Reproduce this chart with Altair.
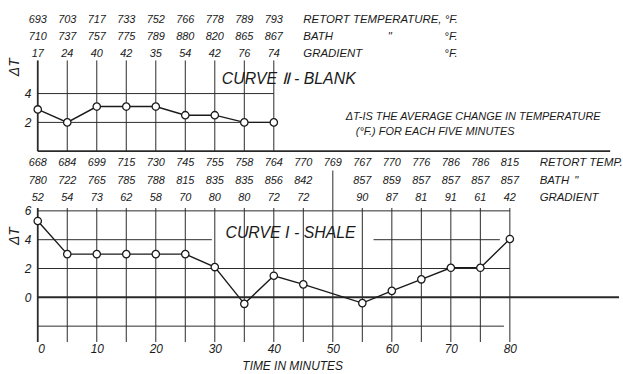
import altair as alt
import pandas as pd

FONT = "Liberation Sans"
INK = "#1a1a1a"
GRID = "#2a2a2a"

# ---------------- data ----------------
minutes = list(range(0, 85, 5))           # 0 ... 80 (17 readings)

# Curve II - blank (first 9 readings)
blank_minutes = minutes[:9]
blank_dT = [2.9, 2.0, 3.1, 3.1, 3.1, 2.5, 2.5, 2.0, 2.0]
blank_retort = [693, 703, 717, 733, 752, 766, 778, 789, 793]
blank_bath = [710, 737, 757, 775, 789, 880, 820, 865, 867]
blank_gradient = [17, 24, 40, 42, 35, 54, 42, 76, 74]

# Curve I - shale
shale_dT = [5.3, 3.0, 3.0, 3.0, 3.0, 3.0, 2.1, -0.45, 1.5, 0.9, None,
            -0.4, 0.45, 1.25, 2.05, 2.05, 4.05]
shale_retort = [668, 684, 699, 715, 730, 745, 755, 758, 764, 770, 769,
                767, 770, 776, 786, 786, 815]
shale_bath = [780, 722, 765, 785, 788, 815, 835, 835, 856, 842, None,
              857, 859, 857, 857, 857, 857]
shale_gradient = [52, 54, 73, 62, 58, 70, 80, 80, 72, 72, None,
                  90, 87, 81, 91, 61, 42]

top_row_labels = ["RETORT TEMPERATURE, °F.", "BATH", "GRADIENT"]
top_row_units = ["", "°F.", "°F."]
bot_row_labels = ["RETORT TEMP.", "BATH", "GRADIENT"]
note_lines = ["ΔT-IS THE AVERAGE CHANGE IN TEMPERATURE",
              "(°F.) FOR EACH FIVE MINUTES"]
x_ticks = list(range(0, 81, 10))

# ---------------- layout (in data units) ----------------
W = 585
TOP_H, BOT_H = 151, 191
XMAX = 98.5
TOP_DOMAIN = [0, 10.41]
BOT_DOMAIN = [-3.1, 10.07]
top_rows_v = [9.1, 7.93, 6.76]
bot_rows_v = [9.31, 8.07, 6.9]

xscale = alt.Scale(domain=[0, XMAX], nice=False, zero=False)
ys_top = alt.Scale(domain=TOP_DOMAIN, nice=False, zero=False)
ys_bot = alt.Scale(domain=BOT_DOMAIN, nice=False, zero=False)

x_axis_bot = alt.Axis(
    title="TIME IN MINUTES", values=x_ticks, domain=False, ticks=False, grid=False,
    labelFont=FONT, labelFontStyle="italic", labelFontSize=12, labelColor=INK,
    labelPadding=2, titleFont=FONT, titleFontStyle="italic", titleFontWeight="normal",
    titleFontSize=12, titleColor=INK, titlePadding=6, titleX=256, titleAlign="center")


def y_axis(values, title_y):
    return alt.Axis(
        title="ΔT", values=values, domain=False, ticks=False, grid=False,
        labelFont=FONT, labelFontStyle="italic", labelFontSize=12, labelColor=INK,
        labelPadding=7, titleFont=FONT, titleFontStyle="italic", titleFontWeight="normal",
        titleFontSize=14, titleColor=INK, titleX=-23, titleY=title_y, titleAngle=270,
        titleAlign="center", titleBaseline="middle")


def panel(xaxis, yscale, yaxis, vlines, hlines, curve, tables, labels, texts, width, height):
    X = lambda: alt.X("t:Q", scale=xscale, axis=xaxis)
    Y = lambda: alt.Y("v:Q", scale=yscale, axis=yaxis)
    layers = []
    layers.append(alt.Chart(vlines).mark_rule(color=GRID).encode(
        x=X(), y=Y(), y2=alt.Y2("v2:Q"), strokeWidth=alt.StrokeWidth("w:Q", scale=None)))
    layers.append(alt.Chart(hlines).mark_rule(color=GRID).encode(
        x=X(), x2=alt.X2("t2:Q"), y=Y(), strokeWidth=alt.StrokeWidth("w:Q", scale=None)))
    layers.append(alt.Chart(curve).mark_line(color=INK, strokeWidth=1.4).encode(x=X(), y=Y()))
    layers.append(alt.Chart(curve).mark_point(
        shape="circle", filled=True, fill="white", stroke=INK, strokeWidth=1.3,
        size=55, opacity=1).encode(x=X(), y=Y()))
    layers.append(alt.Chart(tables).mark_text(
        font=FONT, fontStyle="italic", fontSize=11, color=INK, align="center",
        baseline="middle").encode(x=X(), y=Y(), text="text:N"))
    layers.append(alt.Chart(labels).mark_text(
        font=FONT, fontStyle="italic", fontSize=11.5, color=INK, align="left",
        baseline="middle").encode(x=X(), y=Y(), text="text:N"))
    layers.append(alt.Chart(texts).mark_text(
        font=FONT, fontStyle="italic", color=INK, align="left",
        baseline="middle").encode(x=X(), y=Y(), text="text:N",
                                  size=alt.Size("s:Q", scale=None)))
    return alt.layer(*layers).properties(width=width, height=height)


def table_df(cols, rows, row_v):
    recs = []
    for vals, v in zip(rows, row_v):
        for t, val in zip(cols, vals):
            if val is not None:
                recs.append({"t": t, "v": v, "text": str(val)})
    return pd.DataFrame(recs)


# ---------------- top panel: Curve II ----------------
top_v = pd.DataFrame({"t": blank_minutes, "v": 0.0, "v2": 6.3,
                      "w": [1.8] + [1.0] * 8})
top_h = pd.DataFrame({"t": [0, 0, 0], "t2": [40, 40, 97], "v": [4, 2, 0],
                      "w": [1.0, 1.0, 1.8]})
top_curve = pd.DataFrame({"t": blank_minutes, "v": blank_dT})
top_table = table_df(blank_minutes, [blank_retort, blank_bath, blank_gradient], top_rows_v)
top_labels = pd.DataFrame(
    [{"t": 45.0, "v": v, "text": s} for s, v in zip(top_row_labels, top_rows_v)]
    + [{"t": 59.3, "v": top_rows_v[1], "text": "\""}]
    + [{"t": 68.9, "v": v, "text": u} for u, v in zip(top_row_units, top_rows_v) if u])
top_texts = pd.DataFrame([
    {"t": 31.2, "v": 5.03, "text": "CURVE Ⅱ - BLANK", "s": 16},
    {"t": 52.2, "v": 2.34, "text": note_lines[0], "s": 11},
    {"t": 53.9, "v": 1.31, "text": note_lines[1], "s": 11},
])
top = panel(None, ys_top, y_axis([2, 4], 66), top_v, top_h, top_curve,
            top_table, top_labels, top_texts, W, TOP_H)

# ---------------- bottom panel: Curve I ----------------
bot_v = pd.DataFrame({"t": minutes, "v": -3.1,
                      "v2": [8.8 if m == 50 else 6.2 for m in minutes],
                      "w": [1.8] + [1.0] * 16})
bot_h = pd.DataFrame({"t": [0, 0, 56.9, 0, 0, 0],
                      "t2": [80, 29.5, 78.3, 80, XMAX, 79],
                      "v": [6, 4, 4, 2, 0, -2],
                      "w": [1.0, 1.0, 1.0, 1.0, 2.0, 1.0]})
bot_curve = pd.DataFrame({"t": minutes, "v": shale_dT}).dropna()
bot_table = table_df(minutes, [shale_retort, shale_bath, shale_gradient], bot_rows_v)
bot_labels = pd.DataFrame(
    [{"t": 85.05, "v": v, "text": s} for s, v in zip(bot_row_labels, bot_rows_v)]
    + [{"t": 90.9, "v": bot_rows_v[1], "text": "\""}])
bot_texts = pd.DataFrame([
    {"t": 31.8, "v": 4.48, "text": "CURVE I - SHALE", "s": 16},
])
bottom = panel(x_axis_bot, ys_bot, y_axis([0, 2, 4, 6], 84), bot_v, bot_h, bot_curve,
               bot_table, bot_labels, bot_texts, W, BOT_H)

chart = (
    alt.vconcat(top, bottom, spacing=0)
    .resolve_scale(x="independent", y="independent")
    .properties(padding={"left": 8, "top": 0, "right": 0, "bottom": 0}, background="white")
    .configure_view(stroke=None)
)

chart.save("out.html", embed_options={"renderer": "svg", "actions": False})
